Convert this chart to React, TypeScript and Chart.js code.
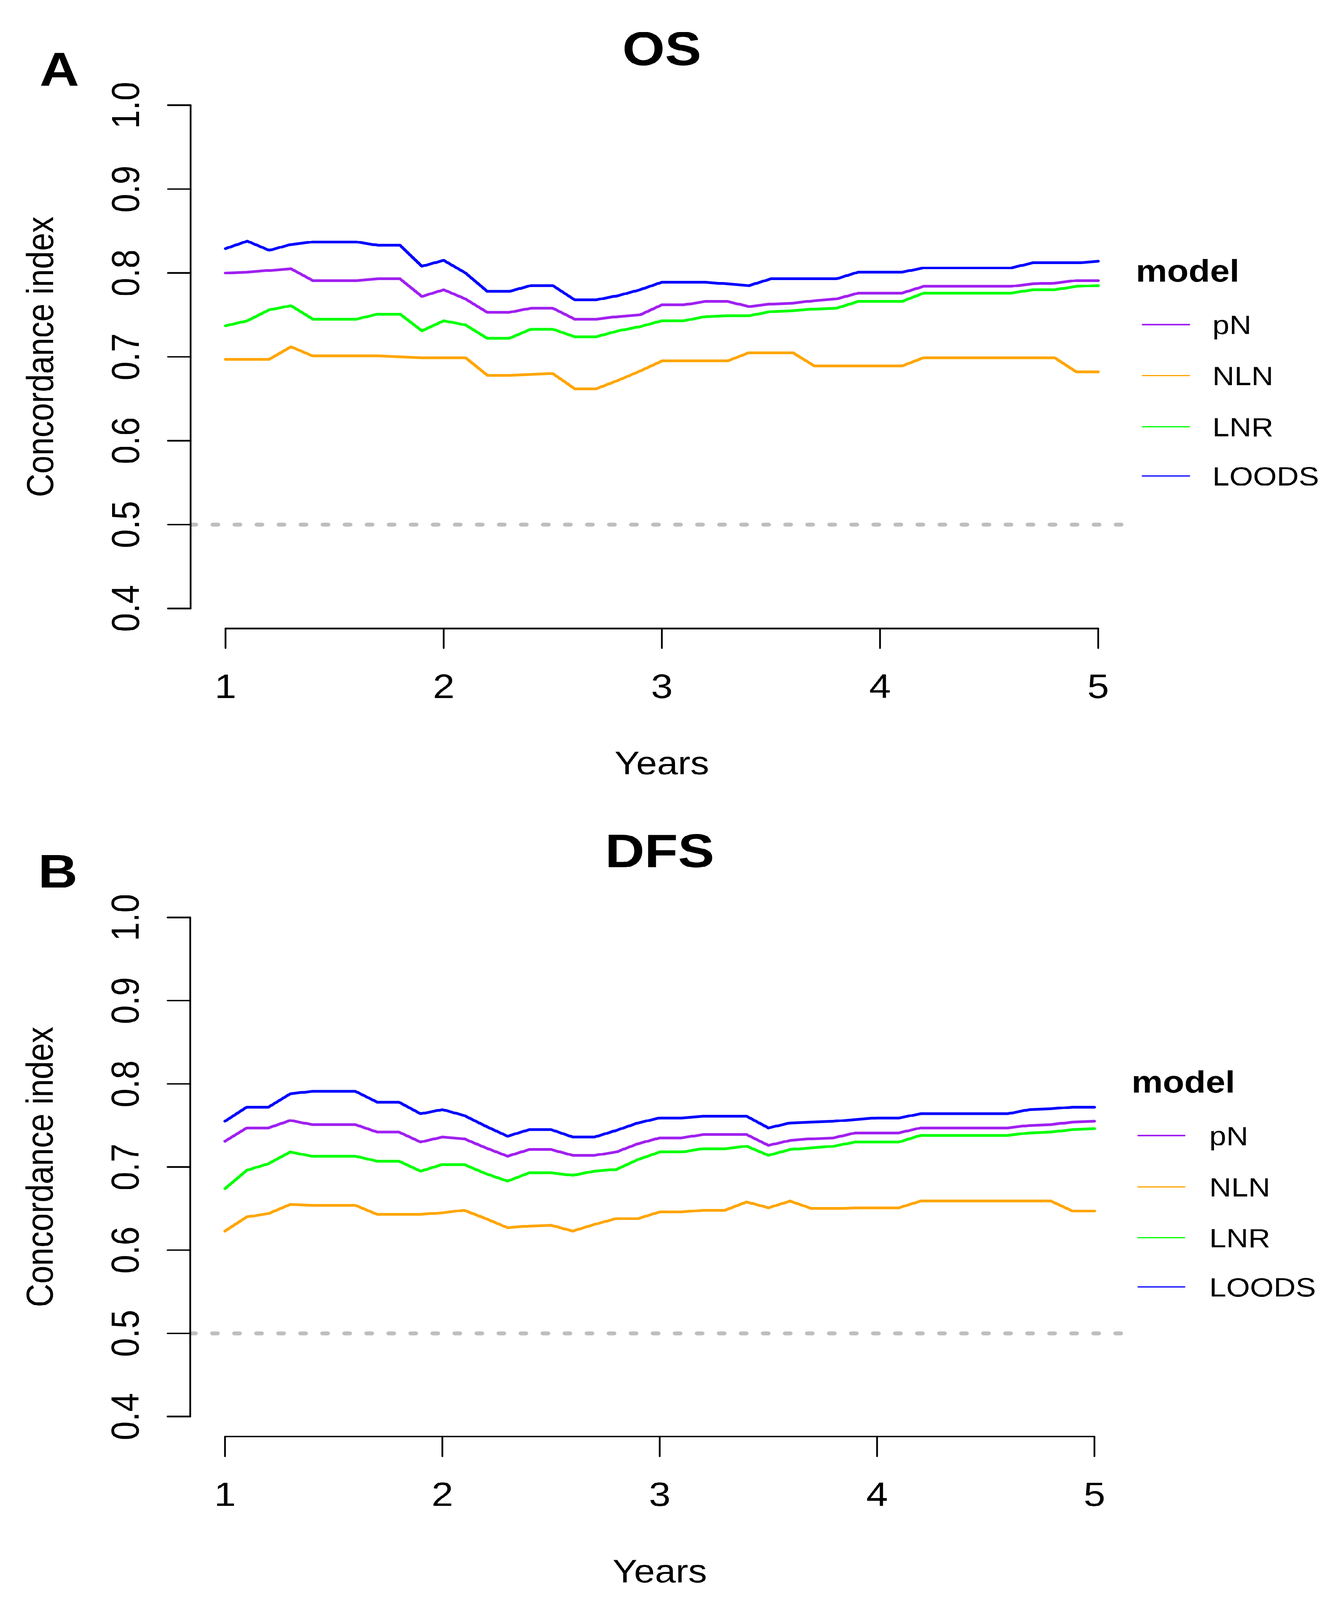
import React, { useEffect, useRef, useState } from "react";
import { Chart, registerables } from "chart.js";

Chart.register(...registerables);

// ---------------- DATA ----------------
const years = [
  1.0, 1.1, 1.2, 1.3, 1.4, 1.5, 1.6, 1.7, 1.8, 1.9,
  2.0, 2.1, 2.2, 2.3, 2.4, 2.5, 2.6, 2.7, 2.8, 2.9,
  3.0, 3.1, 3.2, 3.3, 3.4, 3.5, 3.6, 3.7, 3.8, 3.9,
  4.0, 4.1, 4.2, 4.3, 4.4, 4.5, 4.6, 4.7, 4.8, 4.9,
  5.0,
];

const osPN = [
  0.800, 0.801, 0.803, 0.805, 0.791, 0.791, 0.791, 0.793, 0.793, 0.772,
  0.780, 0.769, 0.753, 0.753, 0.758, 0.758, 0.745, 0.745, 0.748, 0.750,
  0.762, 0.762, 0.766, 0.766, 0.760, 0.763, 0.764, 0.767, 0.769, 0.776,
  0.776, 0.776, 0.784, 0.784, 0.784, 0.784, 0.784, 0.787, 0.788, 0.791,
  0.791,
];
const osNLN = [
  0.697, 0.697, 0.697, 0.712, 0.701, 0.701, 0.701, 0.701, 0.700, 0.699,
  0.699, 0.699, 0.678, 0.678, 0.679, 0.680, 0.662, 0.662, 0.672, 0.683,
  0.695, 0.695, 0.695, 0.695, 0.705, 0.705, 0.705, 0.689, 0.689, 0.689,
  0.689, 0.689, 0.699, 0.699, 0.699, 0.699, 0.699, 0.699, 0.699, 0.682,
  0.682,
];
const osLNR = [
  0.737, 0.743, 0.756, 0.761, 0.745, 0.745, 0.745, 0.751, 0.751, 0.731,
  0.743, 0.738, 0.722, 0.722, 0.733, 0.733, 0.724, 0.724, 0.731, 0.736,
  0.743, 0.743, 0.748, 0.749, 0.749, 0.754, 0.755, 0.757, 0.758, 0.766,
  0.766, 0.766, 0.776, 0.776, 0.776, 0.776, 0.776, 0.780, 0.780, 0.784,
  0.785,
];
const osLOODS = [
  0.829, 0.838, 0.827, 0.834, 0.837, 0.837, 0.837, 0.833, 0.833, 0.808,
  0.815, 0.800, 0.778, 0.778, 0.785, 0.785, 0.768, 0.768, 0.773, 0.780,
  0.789, 0.789, 0.789, 0.787, 0.785, 0.793, 0.793, 0.793, 0.793, 0.801,
  0.801, 0.801, 0.806, 0.806, 0.806, 0.806, 0.806, 0.812, 0.812, 0.812,
  0.814,
];

const dfsPN = [
  0.731, 0.747, 0.747, 0.756, 0.751, 0.751, 0.751, 0.742, 0.742, 0.730,
  0.736, 0.734, 0.723, 0.713, 0.721, 0.721, 0.714, 0.714, 0.718, 0.728,
  0.735, 0.735, 0.739, 0.739, 0.739, 0.726, 0.732, 0.734, 0.735, 0.741,
  0.741, 0.741, 0.747, 0.747, 0.747, 0.747, 0.747, 0.750, 0.751, 0.754,
  0.755,
];
const dfsNLN = [
  0.623, 0.640, 0.644, 0.655, 0.654, 0.654, 0.654, 0.643, 0.643, 0.643,
  0.645, 0.648, 0.638, 0.627, 0.629, 0.630, 0.623, 0.631, 0.638, 0.638,
  0.646, 0.646, 0.648, 0.648, 0.658, 0.651, 0.659, 0.650, 0.650, 0.651,
  0.651, 0.651, 0.659, 0.659, 0.659, 0.659, 0.659, 0.659, 0.659, 0.647,
  0.647,
];
const dfsLNR = [
  0.674, 0.696, 0.704, 0.718, 0.713, 0.713, 0.713, 0.707, 0.707, 0.695,
  0.703, 0.703, 0.692, 0.683, 0.693, 0.693, 0.690, 0.695, 0.697, 0.709,
  0.718, 0.718, 0.722, 0.722, 0.725, 0.714, 0.721, 0.723, 0.725, 0.730,
  0.730, 0.730, 0.738, 0.738, 0.738, 0.738, 0.738, 0.741, 0.742, 0.745,
  0.746,
];
const dfsLOODS = [
  0.755, 0.772, 0.772, 0.788, 0.791, 0.791, 0.791, 0.778, 0.778, 0.764,
  0.769, 0.762, 0.749, 0.737, 0.745, 0.745, 0.736, 0.736, 0.744, 0.753,
  0.759, 0.759, 0.761, 0.761, 0.761, 0.747, 0.753, 0.754, 0.755, 0.757,
  0.759, 0.759, 0.764, 0.764, 0.764, 0.764, 0.764, 0.769, 0.770, 0.772,
  0.772,
];

const modelNames = ["pN", "NLN", "LNR", "LOODS"];
const modelColors = ["#A020F0", "#FFA500", "#00FF00", "#0000FF"];
const xTicks = [1, 2, 3, 4, 5];
const xTickLabels = ["1", "2", "3", "4", "5"];
const yTicks = [0.4, 0.5, 0.6, 0.7, 0.8, 0.9, 1.0];
const yTickLabels = ["0.4", "0.5", "0.6", "0.7", "0.8", "0.9", "1.0"];
const referenceLevel = 0.5;
const xTitle = "Years";
const yTitle = "Concordance index";
const legendTitle = "model";

// ---------------- LAYOUT ----------------
const FONT = '"Liberation Sans", Arial, Helvetica, sans-serif';
const W = 3423;
const H = 4717;

type PanelCfg = {
  top: number;
  height: number;
  title: string;
  letter: string;
  series: number[][];
  padding: { left: number; right: number; top: number; bottom: number };
  titleBaseline: number;
  letterX: number;
  letterBaseline: number;
  legendTitleX: number;
  legendTitleBaseline: number;
  legendLineX0: number;
  legendLineX1: number;
  legendTextX: number;
  legendItemY: number[];
};

const panels: PanelCfg[] = [
  {
    top: 0,
    height: 2360,
    title: "OS",
    letter: "A",
    series: [osPN, osNLN, osLNR, osLOODS],
    padding: { left: 488, right: W - 2901, top: 251, bottom: 2360 - 1853 },
    titleBaseline: 192,
    letterX: 152,
    letterBaseline: 253,
    legendTitleX: 2908,
    legendTitleBaseline: 830,
    legendLineX0: 2925,
    legendLineX1: 3045,
    legendTextX: 3104,
    legendItemY: [957, 1107, 1258, 1403],
  },
  {
    top: 2360,
    height: H - 2360,
    title: "DFS",
    letter: "B",
    series: [dfsPN, dfsNLN, dfsLNR, dfsLOODS],
    padding: { left: 487, right: W - 2891, top: 286, bottom: H - 4235 },
    titleBaseline: 197,
    letterX: 148,
    letterBaseline: 257,
    legendTitleX: 2897,
    legendTitleBaseline: 861,
    legendLineX0: 2914,
    legendLineX1: 3033,
    legendTextX: 3096,
    legendItemY: [988, 1139, 1289, 1434],
  },
];

const rDecorations = {
  id: "rDecorations",
  afterDraw(chart: any) {
    const cfg: PanelCfg = chart.options.plugins.rDecorations.cfg;
    const ctx: CanvasRenderingContext2D = chart.ctx;
    const xs = chart.scales.x;
    const ys = chart.scales.y;
    const area = chart.chartArea;
    ctx.save();
    ctx.strokeStyle = "#000";
    ctx.fillStyle = "#000";
    ctx.lineWidth = 4.5;
    ctx.lineCap = "round";

    // y axis (R style: spans first to last tick)
    const ax = area.left;
    ctx.beginPath();
    ctx.moveTo(ax, ys.getPixelForValue(yTicks[0]));
    ctx.lineTo(ax, ys.getPixelForValue(yTicks[yTicks.length - 1]));
    ctx.stroke();
    ctx.font = `100px ${FONT}`;
    ctx.textAlign = "center";
    ctx.textBaseline = "alphabetic";
    yTicks.forEach((v, i) => {
      const py = ys.getPixelForValue(v);
      ctx.beginPath();
      ctx.moveTo(ax, py);
      ctx.lineTo(ax - 58, py);
      ctx.stroke();
      ctx.save();
      ctx.translate(ax - 132, py);
      ctx.rotate(-Math.PI / 2);
      ctx.fillText(yTickLabels[i], 0, 0);
      ctx.restore();
    });

    // x axis
    const ay = area.bottom;
    ctx.beginPath();
    ctx.moveTo(xs.getPixelForValue(xTicks[0]), ay);
    ctx.lineTo(xs.getPixelForValue(xTicks[xTicks.length - 1]), ay);
    ctx.stroke();
    xTicks.forEach((v, i) => {
      const px = xs.getPixelForValue(v);
      ctx.beginPath();
      ctx.moveTo(px, ay);
      ctx.lineTo(px, ay + 58);
      ctx.stroke();
      ctx.fillText(xTickLabels[i], px, ay + 205);
    });

    // axis titles
    ctx.font = `96px ${FONT}`;
    const cx = (area.left + area.right) / 2;
    ctx.fillText(xTitle, cx, ay + 430);
    ctx.save();
    ctx.translate(ax - 352, (area.top + area.bottom) / 2);
    ctx.rotate(-Math.PI / 2);
    ctx.fillText(yTitle, 0, 0);
    ctx.restore();

    // title and panel letter
    ctx.font = `bold 140px ${FONT}`;
    ctx.fillText(cfg.title, cx, cfg.titleBaseline);
    ctx.fillText(cfg.letter, cfg.letterX, cfg.letterBaseline);

    // legend
    ctx.textAlign = "left";
    ctx.font = `bold 90px ${FONT}`;
    ctx.fillText(legendTitle, cfg.legendTitleX, cfg.legendTitleBaseline);
    ctx.font = `78px ${FONT}`;
    ctx.textBaseline = "middle";
    modelNames.forEach((name, i) => {
      const y = cfg.legendItemY[i];
      ctx.strokeStyle = modelColors[i];
      ctx.lineWidth = 4;
      ctx.beginPath();
      ctx.moveTo(cfg.legendLineX0, y);
      ctx.lineTo(cfg.legendLineX1, y);
      ctx.stroke();
      ctx.fillStyle = "#000";
      ctx.fillText(name, cfg.legendTextX, y + 6);
    });
    ctx.restore();
  },
};

function Panel({ cfg }: { cfg: PanelCfg }) {
  const ref = useRef<HTMLCanvasElement | null>(null);
  useEffect(() => {
    if (!ref.current) return;
    const datasets: any[] = cfg.series.map((vals, i) => ({
      label: modelNames[i],
      data: years.map((x, j) => ({ x, y: vals[j] })),
      borderColor: modelColors[i],
      backgroundColor: modelColors[i],
      borderWidth: 8,
      pointRadius: 0,
      tension: 0,
      fill: false,
      borderJoinStyle: "round",
      borderCapStyle: "round",
      order: 4 - i,
    }));
    datasets.push({
      label: "ref",
      data: [
        { x: 0.84, y: referenceLevel },
        { x: 5.16, y: referenceLevel },
      ],
      borderColor: "#BEBEBE",
      borderWidth: 11,
      borderDash: [14, 42.4],
      borderCapStyle: "round",
      pointRadius: 0,
      fill: false,
      order: 10,
    });
    const chart = new Chart(ref.current, {
      type: "line",
      data: { datasets },
      plugins: [rDecorations],
      options: {
        animation: false,
        responsive: false,
        devicePixelRatio: 1,
        events: [],
        layout: { padding: cfg.padding },
        scales: {
          x: { type: "linear", min: 0.84, max: 5.16, display: false },
          y: { type: "linear", min: 0.376, max: 1.024, display: false },
        },
        plugins: {
          legend: { display: false },
          title: { display: false },
          tooltip: { enabled: false },
          rDecorations: { cfg },
        } as any,
      },
    } as any);
    return () => chart.destroy();
  }, [cfg]);
  return (
    <div style={{ position: "absolute", left: 0, top: cfg.top, width: W, height: cfg.height }}>
      <canvas ref={ref} width={W} height={cfg.height} style={{ width: W, height: cfg.height, display: "block" }} />
    </div>
  );
}

function fitScale() {
  if (typeof window === "undefined") return { sx: 1, sy: 1 };
  const sx = Math.min(1, (window.innerWidth || W) / W);
  const sy = Math.min(1, (window.innerHeight || H) / H);
  return { sx, sy };
}

export default function App() {
  const [scale, setScale] = useState(fitScale());
  useEffect(() => {
    const onResize = () => setScale(fitScale());
    window.addEventListener("resize", onResize);
    return () => window.removeEventListener("resize", onResize);
  }, []);
  return (
    <div
      style={{
        position: "absolute",
        left: 0,
        top: 0,
        width: W,
        height: H,
        background: "#ffffff",
        overflow: "hidden",
        transform: `scale(${scale.sx}, ${scale.sy})`,
        transformOrigin: "0 0",
      }}
    >
      {panels.map((p) => (
        <Panel key={p.title} cfg={p} />
      ))}
    </div>
  );
}
